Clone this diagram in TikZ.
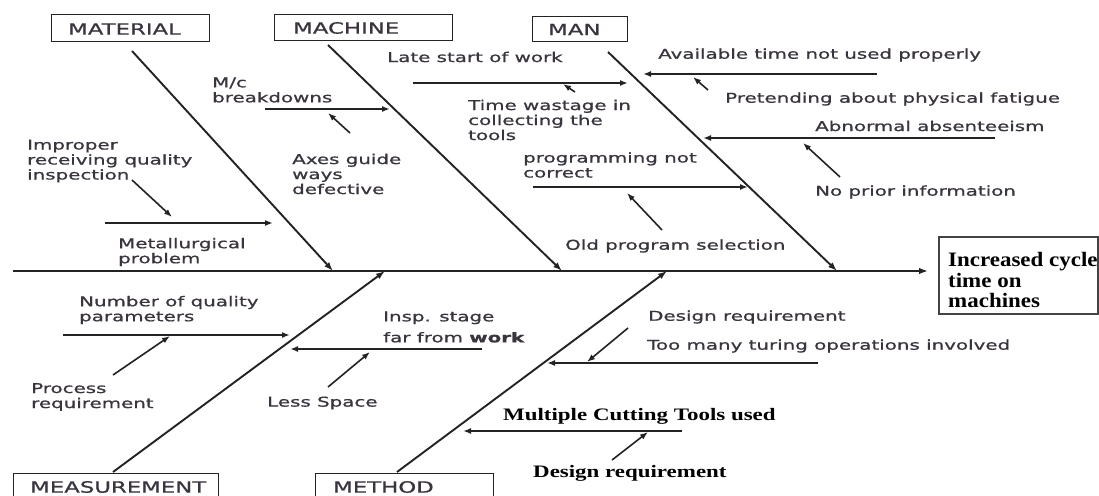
\documentclass[tikz,border=0pt]{standalone}
\usepackage{fontspec}
\usetikzlibrary{arrows.meta}
\newfontfamily\sansf{DejaVu Sans}[FakeStretch=1.47,FakeBold=0.8]
\newfontfamily\serifb{Liberation Serif}[FakeStretch=1.31]
\newfontfamily\serifr{Liberation Serif}[FakeStretch=1.12]
\definecolor{ln}{RGB}{35,35,35}
\definecolor{tx}{RGB}{58,52,62}
\tikzset{
  lbl/.style={anchor=west, inner sep=0pt, align=left, text=tx, font=\sansf\fontsize{13.5}{15}\selectfont},
  blbl/.style={anchor=west, inner sep=0pt, align=left, text=black, font=\serifb\bfseries\fontsize{17.5}{19}\selectfont},
  catbox/.style={draw=ln, line width=1.4pt, inner sep=0pt, anchor=north west},
  catlbl/.style={anchor=west, inner sep=0pt, text=tx, font=\sansf\fontsize{15.5}{17}\selectfont},
  bone/.style={draw=ln, line width=1.9pt, -{Latex[length=9pt,width=6.5pt]}},
  sub/.style={draw=ln, line width=1.6pt, -{Latex[length=8pt,width=6pt]}},
}
\begin{document}
\begin{tikzpicture}[x=1pt,y=-1pt]
\useasboundingbox (0,0) rectangle (1099,495);
\fill[white] (0,0) rectangle (1099,495);
\clip (0,0) rectangle (1099,495);

% category boxes
\node[catbox, minimum width=158pt, minimum height=27pt] (matbox) at (51,14) {};
\node[catlbl] (mat) at (68,29) {MATERIAL};
\node[catbox, minimum width=178pt, minimum height=26pt] (macbox) at (274,14) {};
\node[catlbl] (mac) at (293,28) {MACHINE};
\node[catbox, minimum width=95pt, minimum height=25pt] (manbox) at (532,16) {};
\node[catlbl] (man) at (548,29.5) {MAN};
\node[catbox, minimum width=205pt, minimum height=30pt] (meabox) at (13,473) {};
\node[catlbl] (mea) at (30,487) {MEASUREMENT};
\node[catbox, minimum width=178pt, minimum height=30pt] (metbox) at (315,473) {};
\node[catlbl] (met) at (333,487) {METHOD};

% result
\node[draw=ln!85, line width=2pt, minimum width=159pt, minimum height=77pt, inner sep=0pt] (res) at (1018.5,275.5) {};
\node[anchor=west, inner sep=0pt, align=left, font=\serifr\bfseries\fontsize{20.5}{20.5}\selectfont] (restxt) at (948,280) {Increased cycle\\time on\\machines};

% spine and bones
\coordinate (s0) at (13,271);
\coordinate (s1) at (928,271);
\draw[bone] (s0) -- (s1);
\coordinate (m0) at (132,51);   \coordinate (m1) at (333,271);
\coordinate (c0) at (328,45);   \coordinate (c1) at (562,271);
\coordinate (n0) at (608,52);   \coordinate (n1) at (837,271);
\coordinate (e0) at (113,472);  \coordinate (e1) at (385,271);
\coordinate (t0) at (397,472);  \coordinate (t1) at (667,271);
\draw[bone] (m0) -- (m1);
\draw[bone] (c0) -- (c1);
\draw[bone] (n0) -- (n1);
\draw[bone] (e0) -- (e1);
\draw[bone] (t0) -- (t1);

% material
\coordinate (ma0) at (105,223); \coordinate (ma1) at (273,223);
\coordinate (mb0) at (132,180); \coordinate (mb1) at (172,217);
\draw[sub] (ma0) -- (ma1);
\draw[sub] (mb0) -- (mb1);
\node[lbl] (imp) at (27,161) {Improper\\receiving quality\\inspection};
\node[lbl] (met1) at (118,252) {Metallurgical\\problem};

% machine
\coordinate (ca0) at (265,109); \coordinate (ca1) at (390,109);
\coordinate (cb0) at (350,133); \coordinate (cb1) at (328,113);
\draw[sub] (ca0) -- (ca1);
\draw[sub] (cb0) -- (cb1);
\node[lbl] (mcb) at (212,90) {M/c\\breakdowns};
\node[lbl] (axe) at (292,174) {Axes guide\\ways\\defective};

% man
\coordinate (na0) at (413,83);  \coordinate (na1) at (628,83);
\coordinate (nb0) at (575,92);  \coordinate (nb1) at (563,84);
\coordinate (nc0) at (533,187); \coordinate (nc1) at (748,187);
\coordinate (nd0) at (662,230); \coordinate (nd1) at (627,193);
\coordinate (ne0) at (877,74);  \coordinate (ne1) at (643,74);
\coordinate (nf0) at (708,90);  \coordinate (nf1) at (693,77);
\coordinate (ng0) at (995,138); \coordinate (ng1) at (703,138);
\coordinate (nh0) at (840,177); \coordinate (nh1) at (803,143);
\draw[sub] (na0) -- (na1);
\draw[sub] (nb0) -- (nb1);
\draw[sub] (nc0) -- (nc1);
\draw[sub] (nd0) -- (nd1);
\draw[sub] (ne0) -- (ne1);
\draw[sub] (nf0) -- (nf1);
\draw[sub] (ng0) -- (ng1);
\draw[sub] (nh0) -- (nh1);
\node[lbl] (late) at (387,57) {Late start of work};
\node[lbl] (tw) at (468,120) {Time wastage in\\collecting the\\tools};
\node[lbl] (prog) at (523,165) {programming not\\correct};
\node[lbl] (old) at (565,246) {Old program selection};
\node[lbl] (avail) at (658,55) {Available time not used properly};
\node[lbl] (pret) at (725,99) {Pretending about physical fatigue};
\node[lbl] (abn) at (815,126) {Abnormal absenteeism};
\node[lbl] (nop) at (815,192) {No prior information};

% measurement
\coordinate (ea0) at (63,335);  \coordinate (ea1) at (290,335);
\coordinate (eb0) at (113,375); \coordinate (eb1) at (170,336);
\coordinate (ec0) at (482,349); \coordinate (ec1) at (290,349);
\coordinate (ed0) at (328,387); \coordinate (ed1) at (370,352);
\draw[sub] (ea0) -- (ea1);
\draw[sub] (eb0) -- (eb1);
\draw[sub] (ec0) -- (ec1);
\draw[sub] (ed0) -- (ed1);
\node[lbl] (nq) at (79,310) {Number of quality\\parameters};
\node[lbl] (proc) at (31,397) {Process\\requirement};
\node[lbl, font=\sansf\fontsize{13.5}{21}\selectfont] (insp) at (383,327) {Insp. stage\\far from {\bfseries work}};
\node[lbl] (less) at (267,403) {Less Space};

% method
\coordinate (ta0) at (818,363); \coordinate (ta1) at (547,363);
\coordinate (tb0) at (628,328); \coordinate (tb1) at (587,362);
\coordinate (tc0) at (682,431); \coordinate (tc1) at (463,431);
\coordinate (td0) at (612,460); \coordinate (td1) at (648,432);
\draw[sub] (ta0) -- (ta1);
\draw[sub] (tb0) -- (tb1);
\draw[sub] (tc0) -- (tc1);
\draw[sub] (td0) -- (td1);
\node[lbl] (dr1) at (648,317) {Design requirement};
\node[lbl] (tmt) at (647,346) {Too many turing operations involved};
\node[blbl] (mct) at (503,416) {Multiple Cutting Tools used};
\node[blbl] (dr2) at (533,473) {Design requirement};
\end{tikzpicture}
\end{document}
